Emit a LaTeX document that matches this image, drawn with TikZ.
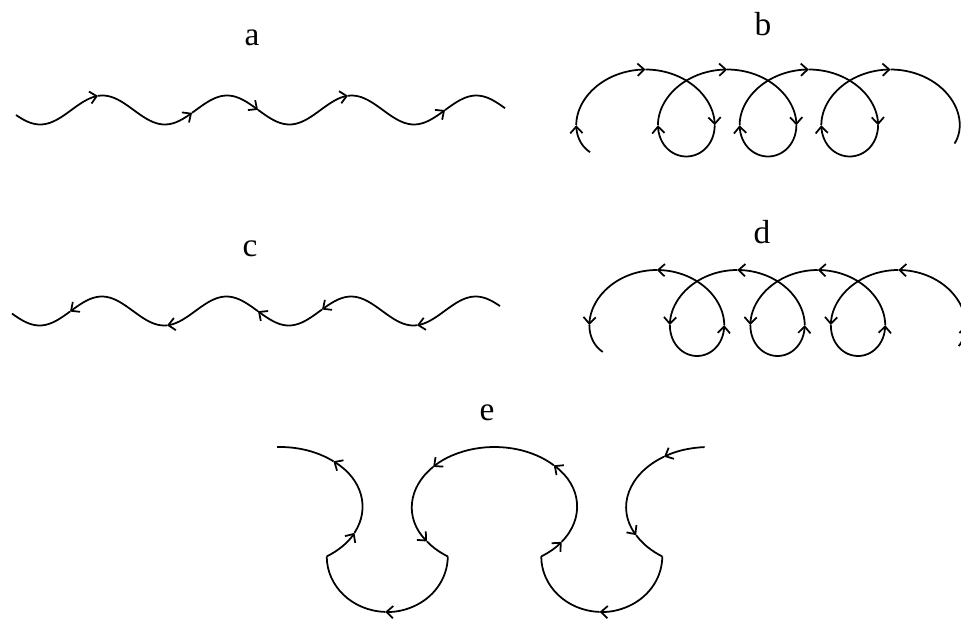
\documentclass[tikz,border=0pt]{standalone}
\usepackage{fontspec}
\setmainfont{Liberation Serif}
\usetikzlibrary{arrows.meta}

\begin{document}
\begin{tikzpicture}[
        x=0.02cm, y=0.02cm,
        orbit/.style={line width=1pt},
        barb/.style={-{Straight Barb[length=3.8pt,width=7pt]}},
        rbarb/.style={{Straight Barb[length=3.8pt,width=7pt]}-},
        panel/.style={font=\fontsize{19}{22}\selectfont, anchor=base, inner sep=0pt},
        declare function={
            wavea(\x)=-110-14.5*cos(2.8892*(\x-40.2));
            wavec(\x)=-311-14.5*cos(2.8892*(\x-39.6));
            loopbx(\t)=645.5+13.0*\t+47*sin(\t r);
            loopby(\t)=-113+43.5*cos(\t r);
            loopdx(\t)=656.8+12.81*\t+45.5*sin(\t r);
            loopdy(\t)=-313+43*cos(\t r);
        }
    ]
    % Frame
    \useasboundingbox (0,0) rectangle (961,-619);
    \clip (0,0) rectangle (961,-619);

    % Panel labels
    \node[panel] (la) at (252,-45) {a};
    \node[panel] (lb) at (763,-35) {b};
    \node[panel] (lc) at (250,-256) {c};
    \node[panel] (ld) at (762,-243) {d};
    \node[panel] (le) at (487,-420) {e};

    % a: wave, moving right
    \foreach \xa/\xb in {16/98,98/192,192/258,258/348,348/445}
        \draw[orbit, barb] plot[domain=\xa:\xb, samples=30] (\x, {wavea(\x)});
    \draw[orbit] plot[domain=445:505, samples=20] (\x, {wavea(\x)});

    % c: wave, moving left
    \draw[orbit] plot[domain=12:70, samples=20] (\x, {wavec(\x)});
    \foreach \xa/\xb in {70/167,167/258,258/322,322/417,417/500}
        \draw[orbit, rbarb] plot[domain=\xa:\xb, samples=30] (\x, {wavec(\x)});

    % b: loops, moving right
    \foreach \ta/\tb in {-2.69/-1.856,-1.856/0,0/1.856,1.856/4.427,4.427/6.283,6.283/8.139,
                         8.139/10.71,10.71/12.566,12.566/14.422,14.422/16.994,16.994/18.85}
        \draw[orbit, barb] plot[variable=\t, domain=\ta:\tb, samples=30] ({loopbx(\t)}, {loopby(\t)});
    \draw[orbit] plot[variable=\t, domain=18.85:21.2, samples=30] ({loopbx(\t)}, {loopby(\t)});

    % d: loops, moving left
    \draw[orbit] plot[variable=\t, domain=-2.70:-1.856, samples=20] ({loopdx(\t)}, {loopdy(\t)});
    \foreach \ta/\tb in {-1.856/0,0/1.856,1.856/4.427,4.427/6.283,6.283/8.139,8.139/10.71,
                         10.71/12.566,12.566/14.422,14.422/16.994,16.994/18.85,18.85/20.706,20.706/21.3}
        \draw[orbit, rbarb] plot[variable=\t, domain=\ta:\tb, samples=30] ({loopdx(\t)}, {loopdy(\t)});

    % e: skipping orbits along the wall
    \coordinate (rc) at (709,-507);
    \coordinate (mc) at (494.5,-507);
    \coordinate (lc) at (280,-507);
    \coordinate (br) at (601.75,-556.44);
    \coordinate (bl) at (387.25,-556.44);

    % large arcs
    \foreach \c/\ta/\tb in {rc/93/123,rc/123/208,mc/-55.5/-35.5,mc/-35.5/44,mc/44/138,mc/138/215,
                            lc/-55.5/-25.5,lc/-25.5/49.6}
        \draw[orbit, barb] (\c) ++(\ta:82.5 and 60) arc[start angle=\ta, end angle=\tb, x radius=82.5, y radius=60];
    \foreach \c/\ta/\tb in {rc/208/235.5,mc/215/235.5,lc/49.6/92}
        \draw[orbit] (\c) ++(\ta:82.5 and 60) arc[start angle=\ta, end angle=\tb, x radius=82.5, y radius=60];

    % bounces at the wall
    \foreach \c in {br,bl} {
        \draw[orbit, barb] (\c) ++(0:60.51 and 55.5) arc[start angle=0, end angle=-92, x radius=60.51, y radius=55.5];
        \draw[orbit] (\c) ++(-92:60.51 and 55.5) arc[start angle=-92, end angle=-180, x radius=60.51, y radius=55.5];
    }
\end{tikzpicture}
\end{document}
